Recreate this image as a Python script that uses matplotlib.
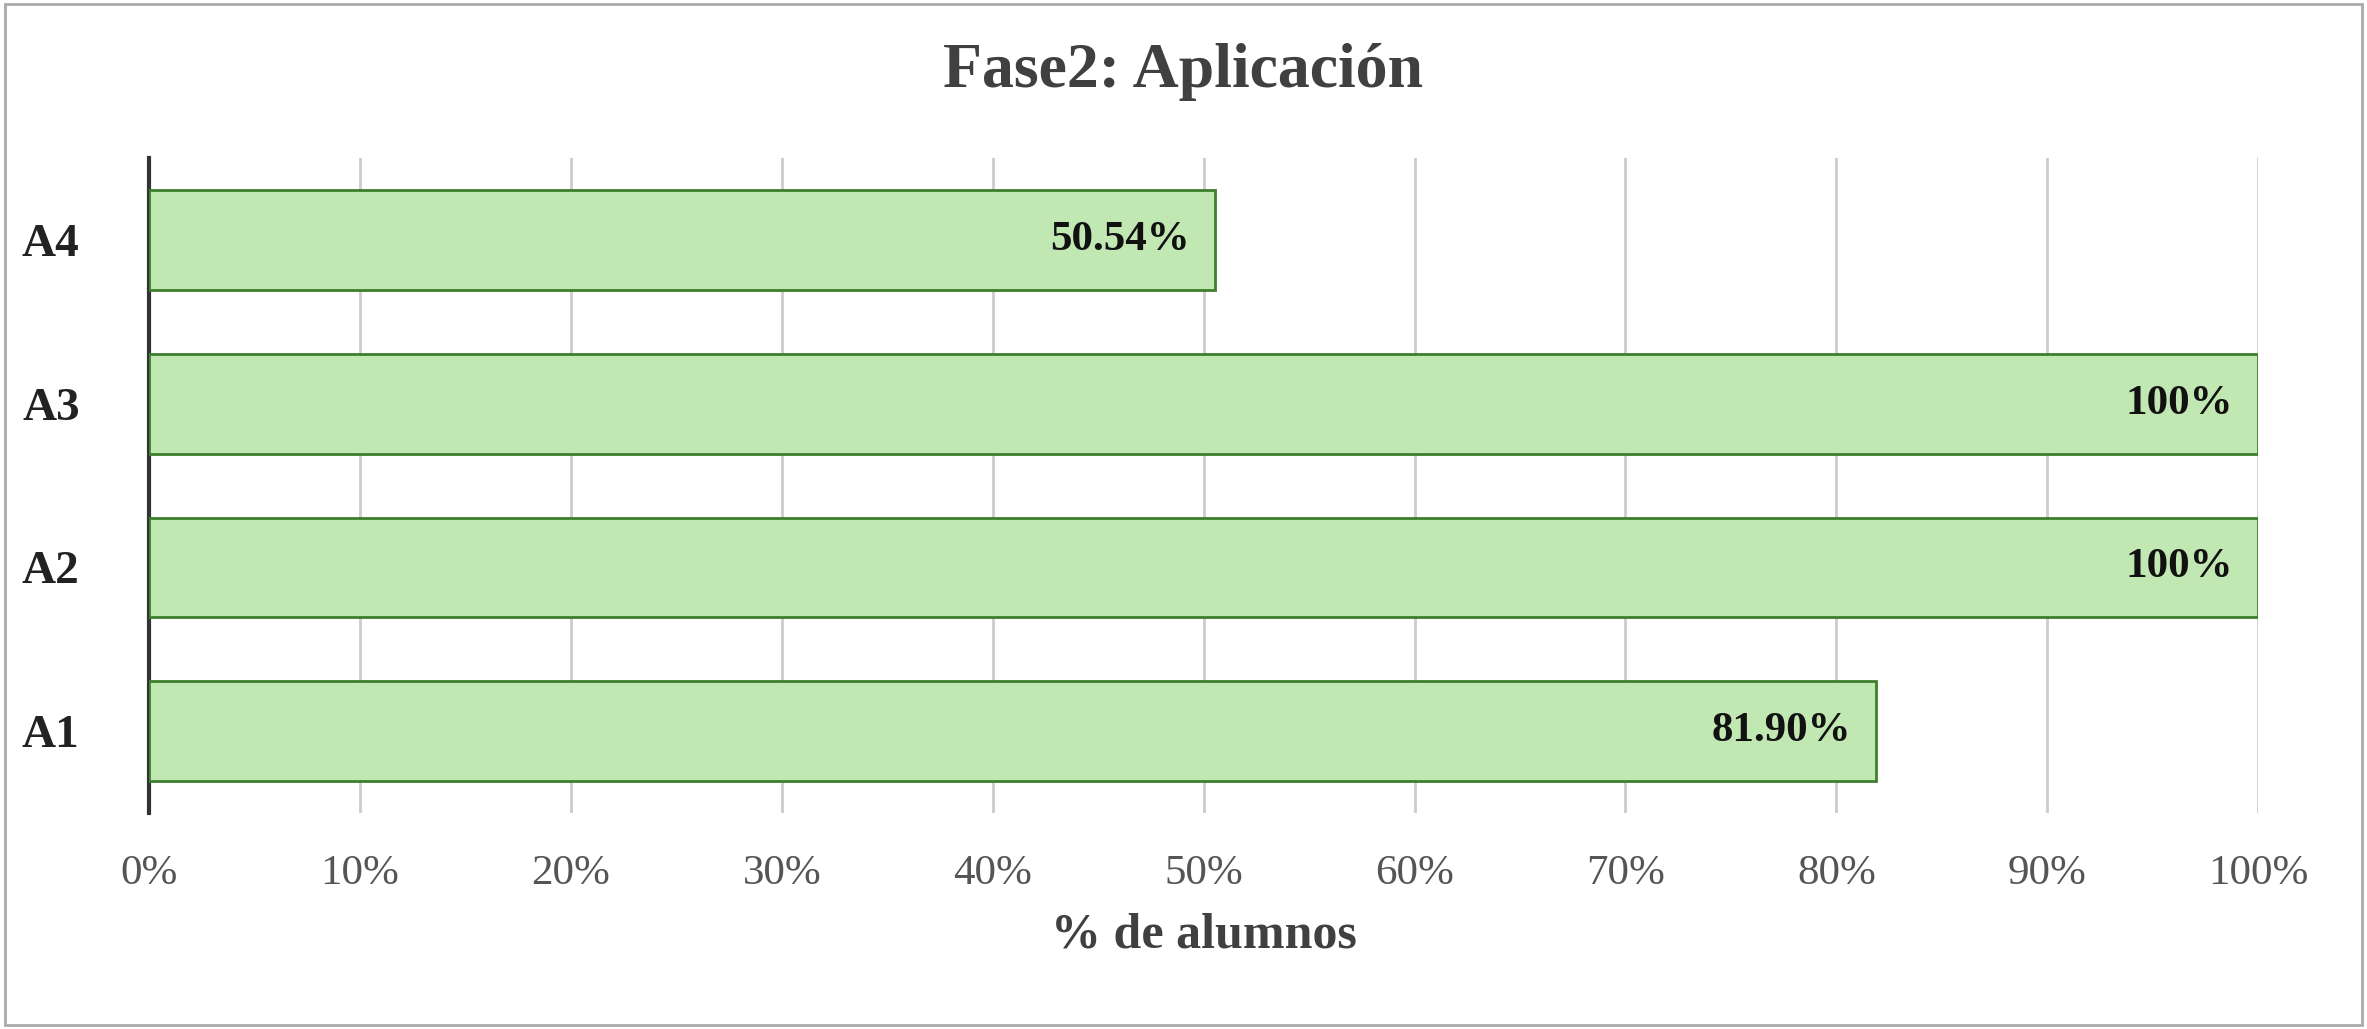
import matplotlib
matplotlib.use("Agg")
import matplotlib.pyplot as plt
from matplotlib.patches import Rectangle

categories = ["A1", "A2", "A3", "A4"]
values = [81.90, 100, 100, 50.54]
labels = ["81.90%", "100%", "100%", "50.54%"]
xticks = list(range(0, 101, 10))
xticklabels = [f"{t}%" for t in xticks]

plt.rcParams['font.family'] = ['Liberation Serif', 'DejaVu Serif']
fig = plt.figure(figsize=(23.67, 10.29), dpi=100)
ax = fig.add_axes([0.063, 0.21, 0.891, 0.636])
ax.barh(categories, values, height=0.61, color="#c1e7b2", edgecolor="#3d7f2c", linewidth=2, zorder=3)
for i, (v, l) in enumerate(zip(values, labels)):
    ax.text(v - 1.2, i, l, ha="right", va="center", fontsize=31, fontweight="bold", color="#111111", zorder=4)
ax.set_xlim(0, 100)
ax.set_ylim(-0.5, 3.5)
ax.set_xticks(xticks)
ax.set_xticklabels(xticklabels, fontsize=31, color="#555555")
ax.tick_params(axis='x', length=0, pad=30)
ax.tick_params(axis='y', length=0, pad=50, labelsize=34)
for t in ax.get_yticklabels():
    t.set_fontweight("bold"); t.set_color("#222222")
ax.grid(axis='x', color="#cccccc", linewidth=2, zorder=0)
for s in ["top", "right", "bottom"]:
    ax.spines[s].set_visible(False)
ax.spines["left"].set_linewidth(3)
ax.spines["left"].set_color("#333333")
ax.set_xlabel("% de alumnos", fontsize=36, fontweight="bold", color="#404040", labelpad=14)
fig.text(0.5, 0.93, "Fase2: Aplicación", ha="center", va="center", fontsize=46, fontweight="bold", color="#404040")
fig.patches.append(Rectangle((0.002, 0.004), 0.996, 0.992, transform=fig.transFigure, fill=False, edgecolor="#aaaaaa", linewidth=2))
fig.savefig("out.png", dpi=100)
